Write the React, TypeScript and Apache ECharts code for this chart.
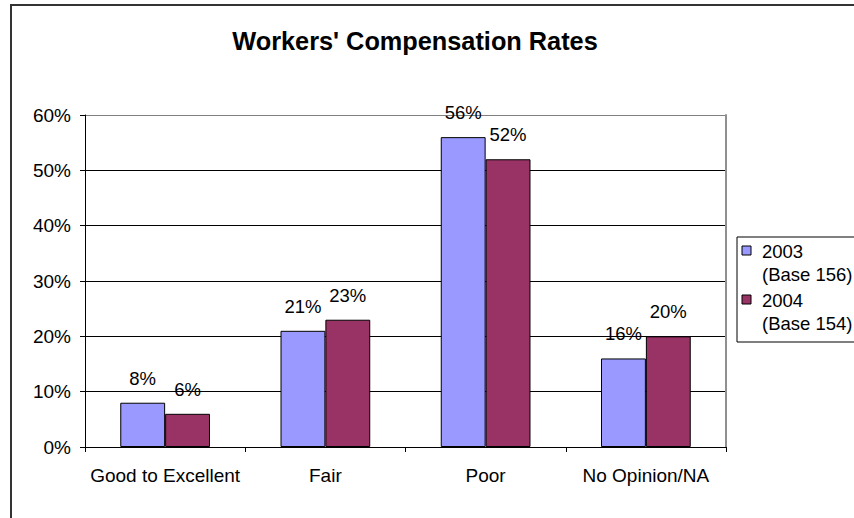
import React, { useEffect, useRef } from "react";
import * as echarts from "echarts";

const categories = ["Good to Excellent", "Fair", "Poor", "No Opinion/NA"];
const values2003 = [8, 21, 56, 16];
const values2004 = [6, 23, 52, 20];
const seriesNames = ["2003", "2004"];
const seriesBases = ["(Base 156)", "(Base 154)"];
const seriesColors = ["#9999FF", "#993366"];
const yTicks = [0, 10, 20, 30, 40, 50, 60];

const FONT = "'Liberation Sans', Arial, sans-serif";

export default function App() {
  const ref = useRef<HTMLDivElement>(null);
  useEffect(() => {
    document.body.style.margin = "0";
    if (!ref.current) return;
    const chart = echarts.init(ref.current, undefined, { renderer: "svg" });
    const legendItems: any[] = [];
    seriesNames.forEach((n, i) => {
      const y0 = 246 + i * 49;
      legendItems.push({
        type: "rect",
        shape: { x: 742, y: y0, width: 9, height: 9 },
        style: { fill: seriesColors[i], stroke: "#000", lineWidth: 1 },
      });
      legendItems.push({
        type: "text",
        x: 762,
        y: y0 + 5,
        style: { text: n, fontSize: 18.5, fontFamily: FONT, fill: "#000", verticalAlign: "middle" },
      });
      legendItems.push({
        type: "text",
        x: 762,
        y: y0 + 28,
        style: { text: seriesBases[i], fontSize: 18.5, fontFamily: FONT, fill: "#000", verticalAlign: "middle" },
      });
    });
    chart.setOption({
      animation: false,
      backgroundColor: "#fff",
      textStyle: { fontFamily: FONT },
      title: {
        text: "Workers' Compensation Rates",
        left: 415,
        top: 28,
        textAlign: "center",
        padding: 0,
        textStyle: { fontSize: 25.3, fontWeight: "bold", color: "#000", fontFamily: FONT },
      },
      grid: { left: 85, right: 128, top: 115, bottom: 71 },
      xAxis: {
        type: "category",
        data: categories,
        axisLine: { lineStyle: { color: "#000", width: 1 } },
        axisTick: { show: true, length: 5, lineStyle: { color: "#000" } },
        axisLabel: { interval: 0, fontSize: 19, color: "#000", margin: 19, fontFamily: FONT },
      },
      yAxis: [
        {
          type: "value",
          min: yTicks[0],
          max: yTicks[yTicks.length - 1],
          interval: 10,
          axisLine: { show: true, lineStyle: { color: "#000", width: 1 } },
          axisTick: { show: true, length: 5, lineStyle: { color: "#000" } },
          axisLabel: { fontSize: 19, color: "#000", margin: 14, formatter: "{value}%", fontFamily: FONT },
          splitLine: {
            show: true,
            lineStyle: { color: ["#000", "#000", "#000", "#000", "#000", "#000", "#808080"], width: 1 },
          },
        },
        {
          type: "value",
          position: "right",
          min: yTicks[0],
          max: yTicks[yTicks.length - 1],
          interval: 10,
          axisLine: { show: true, lineStyle: { color: "#909090", width: 2 } },
          axisTick: { show: false },
          axisLabel: { show: false },
          splitLine: { show: false },
        },
      ],
      series: [
        {
          name: seriesNames[0],
          type: "bar",
          data: values2003,
          barGap: "0%",
          barCategoryGap: "44%",
          itemStyle: { color: seriesColors[0], borderColor: "#000", borderWidth: 1 },
          label: { show: true, position: "top", distance: 15, formatter: "{c}%", fontSize: 18.5, color: "#000", fontFamily: FONT },
        },
        {
          name: seriesNames[1],
          type: "bar",
          data: values2004,
          barGap: "0%",
          barCategoryGap: "44%",
          itemStyle: { color: seriesColors[1], borderColor: "#000", borderWidth: 1 },
          label: { show: true, position: "top", distance: 15, formatter: "{c}%", fontSize: 18.5, color: "#000", fontFamily: FONT },
        },
      ],
      graphic: [
        {
          type: "rect",
          shape: { x: 11, y: 5, width: 900, height: 600 },
          style: { fill: "none", stroke: "#333", lineWidth: 2 },
          silent: true,
        },
        {
          type: "rect",
          shape: { x: 737, y: 237, width: 200, height: 105 },
          style: { fill: "#fff", stroke: "#000", lineWidth: 1 },
        },
        ...legendItems,
      ],
    });
    return () => chart.dispose();
  }, []);
  return <div ref={ref} style={{ width: 854, height: 518 }} />;
}
